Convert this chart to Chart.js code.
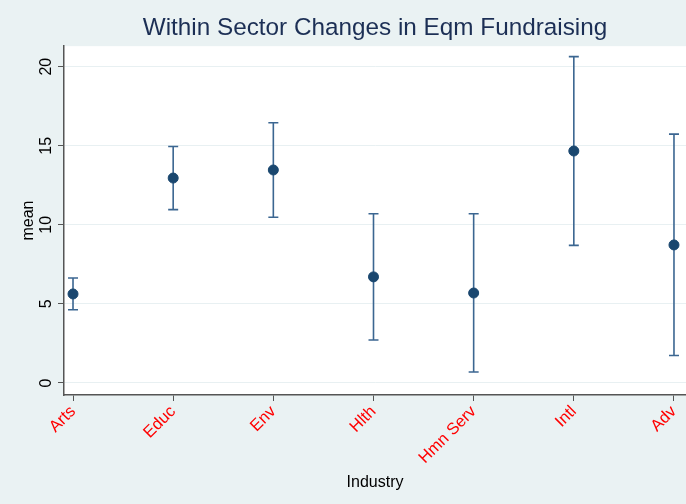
<!DOCTYPE html>
<html>
<head>
<meta charset="utf-8">
<script src="https://cdn.jsdelivr.net/npm/chart.js@4"></script>
<style>
  html, body { margin: 0; padding: 0; background: #eaf2f3; }
  #wrap { width: 686px; height: 504px; }
</style>
</head>
<body>
<div id="wrap"><canvas id="chart" width="686" height="504"></canvas></div>
<script>
const industries = ["Arts", "Educ", "Env", "Hlth", "Hmn Serv", "Intl", "Adv"];
const means = [5.63, 12.96, 13.47, 6.71, 5.69, 14.67, 8.73];
const lower = [4.63, 10.96, 10.48, 2.72, 0.69, 8.7, 1.74];
const upper = [6.64, 14.95, 16.46, 10.7, 10.7, 20.64, 15.74];
const yTicks = [0, 5, 10, 15, 20];

const navy = "#1a476f";

// white plot region + error bars (drawn through the chart's scales)
const plotBg = {
  id: "plotBg",
  beforeDraw(chart) {
    const { ctx, chartArea: a } = chart;
    ctx.save();
    ctx.fillStyle = "#ffffff";
    ctx.fillRect(a.left, a.top, chart.width - a.left, a.bottom - a.top);
    ctx.restore();
  }
};

const errorBars = {
  id: "errorBars",
  beforeDatasetsDraw(chart) {
    const { ctx, scales: { x, y } } = chart;
    ctx.save();
    ctx.strokeStyle = "#3b6691";
    ctx.lineWidth = 1.6;
    industries.forEach((_, i) => {
      const px = x.getPixelForValue(i);
      const top = y.getPixelForValue(upper[i]);
      const bot = y.getPixelForValue(lower[i]);
      ctx.beginPath();
      ctx.moveTo(px, top); ctx.lineTo(px, bot);
      ctx.moveTo(px - 5, top); ctx.lineTo(px + 5, top);
      ctx.moveTo(px - 5, bot); ctx.lineTo(px + 5, bot);
      ctx.stroke();
    });
    ctx.restore();
  }
};

// vertical y tick labels, Stata style
const yLabels = {
  id: "yLabels",
  afterDraw(chart) {
    const { ctx, scales: { y } } = chart;
    ctx.save();
    ctx.fillStyle = "#000000";
    ctx.font = "16px 'Liberation Sans', Arial, sans-serif";
    ctx.textAlign = "center";
    ctx.textBaseline = "middle";
    yTicks.forEach(v => {
      const py = y.getPixelForValue(v);
      ctx.save();
      ctx.translate(47, py);
      ctx.rotate(-Math.PI / 2);
      ctx.fillText(String(v), 0, 0);
      ctx.restore();
    });
    ctx.restore();
  }
};

new Chart(document.getElementById("chart").getContext("2d"), {
  type: "scatter",
  data: {
    datasets: [{
      data: means.map((m, i) => ({ x: i, y: m })),
      backgroundColor: navy,
      borderColor: navy,
      pointRadius: 5,
      pointHoverRadius: 5
    }]
  },
  options: {
    responsive: false,
    animation: false,
    layout: { autoPadding: false, padding: 0 },
    plugins: {
      legend: { display: false },
      tooltip: { enabled: false },
      title: {
        display: true,
        fullSize: false,
        text: "Within Sector Changes in Eqm Fundraising",
        color: "#1c2f55",
        font: { family: "'Liberation Sans', Arial, sans-serif", size: 24.3, weight: "normal" },
        padding: { top: 14, bottom: 3 }
      }
    },
    scales: {
      x: {
        type: "linear",
        min: -0.09,
        max: 6.12,
        afterBuildTicks(scale) {
          scale.ticks = industries.map((_, i) => ({ value: i }));
        },
        afterFit(scale) {
          scale.height = 109;
          scale.paddingLeft = 0;
          scale.paddingRight = 0;
        },
        grid: {
          display: true,
          drawOnChartArea: false,
          drawTicks: true,
          tickLength: 6,
          color: "#555555"
        },
        border: { display: true, color: "#555555", width: 1.5 },
        ticks: {
          color: "#ff0000",
          autoSkip: false,
          minRotation: 45,
          maxRotation: 45,
          padding: 1,
          font: { family: "'Liberation Sans', Arial, sans-serif", size: 16.5 },
          callback: v => industries[v]
        },
        title: {
          display: true,
          text: "Industry",
          color: "#000000",
          font: { family: "'Liberation Sans', Arial, sans-serif", size: 16 },
          padding: { top: 4, bottom: 12 }
        }
      },
      y: {
        min: -0.76,
        max: 21.3,
        afterBuildTicks(scale) {
          scale.ticks = yTicks.map(v => ({ value: v }));
        },
        afterFit(scale) { scale.width = 64; },
        grid: {
          color: "#e8f0f2",
          lineWidth: 1,
          tickLength: 6,
          tickColor: "#555555"
        },
        border: { display: true, color: "#555555", width: 1.5 },
        ticks: {
          color: "rgba(0,0,0,0)",
          font: { family: "'Liberation Sans', Arial, sans-serif", size: 16 }
        },
        title: {
          display: true,
          text: "mean",
          color: "#000000",
          font: { family: "'Liberation Sans', Arial, sans-serif", size: 16 },
          padding: { top: 19, bottom: 0 }
        }
      }
    }
  },
  plugins: [plotBg, errorBars, yLabels]
});
</script>
</body>
</html>
